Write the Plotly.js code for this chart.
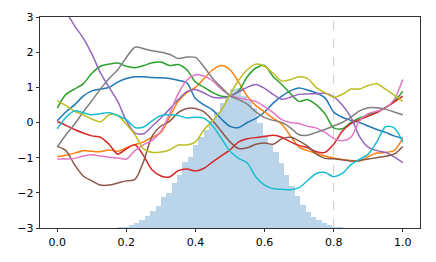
<!DOCTYPE html>
<html>
<head>
<meta charset="utf-8">
<script src="https://cdn.plot.ly/plotly-3.0.1.min.js"></script>
<style>html,body{margin:0;padding:0;background:#fff;}#chart{width:436px;height:262px;}</style>
</head>
<body>
<div id="chart"></div>
<script>
const xs = [0,0.025,0.05,0.075,0.1,0.125,0.15,0.175,0.2,0.225,0.25,0.275,0.3,0.325,0.35,0.375,0.4,0.425,0.45,0.475,0.5,0.525,0.55,0.575,0.6,0.625,0.65,0.675,0.7,0.725,0.75,0.775,0.8,0.825,0.85,0.875,0.9,0.925,0.95,0.975,1.0];

const seriesBlue   = [0.05,0.3,0.5,0.75,0.9,0.95,1.0,1.15,1.25,1.3,1.3,1.28,1.27,1.25,1.2,1.13,0.68,0.5,0.35,0.1,-0.11,-0.14,0.0,0.12,0.3,0.55,0.75,0.9,0.98,0.92,0.84,0.7,0.3,0.15,0.06,0.0,-0.1,-0.2,-0.28,-0.38,-0.45];
const seriesOrange = [-0.97,-0.93,-0.87,-0.8,-0.82,-0.83,-0.78,-0.82,-0.72,-0.63,-0.55,-0.42,-0.28,0.15,0.6,0.85,1.0,1.25,1.5,1.62,1.5,1.15,0.75,0.48,0.3,0.12,-0.05,-0.38,-0.7,-0.8,-0.88,-0.95,-1.01,-1.05,-1.08,-1.1,-0.97,-0.87,-0.85,-0.8,-0.45];
const seriesGreen  = [0.41,0.8,0.95,1.1,1.4,1.6,1.66,1.69,1.6,1.56,1.62,1.7,1.72,1.62,1.65,1.5,1.15,1.0,0.85,0.75,0.75,0.9,1.3,1.55,1.62,1.3,1.08,0.82,0.6,0.65,0.5,0.25,-0.15,-0.18,0.0,0.13,0.22,0.3,0.42,0.6,0.88];
const seriesRed    = [0.03,-0.08,-0.2,-0.3,-0.38,-0.42,-0.62,-0.9,-0.75,-0.63,-0.95,-1.35,-1.52,-1.55,-1.37,-1.32,-1.38,-1.3,-1.12,-0.95,-0.78,-0.55,-0.46,-0.43,-0.4,-0.36,-0.42,-0.55,-0.65,-0.72,-0.83,-0.85,-0.62,-0.25,-0.03,0.08,0.18,0.28,0.42,0.58,0.75];
const seriesPurple = [3.45,3.15,2.75,2.4,1.95,1.41,1.0,0.6,0.05,-0.3,-0.32,-0.1,0.13,0.38,0.65,0.88,0.94,0.84,0.72,0.7,0.75,0.87,1.0,1.08,0.97,0.8,0.66,0.72,0.8,0.81,0.82,0.83,0.73,0.5,0.15,-0.4,-0.7,-0.8,-0.85,-0.98,-1.14];
const seriesBrown  = [-0.68,-0.8,-1.2,-1.52,-1.66,-1.78,-1.78,-1.72,-1.66,-1.62,-1.1,-0.38,-0.1,0.03,0.28,0.4,0.4,0.3,0.05,-0.25,-0.55,-0.74,-0.72,-0.62,-0.58,-0.62,-0.46,-0.42,-0.52,-0.68,-0.9,-1.02,-1.03,-1.06,-1.1,-1.08,-1.04,-1.0,-0.96,-0.9,-0.68];
const seriesPink   = [-1.04,-1.04,-1.02,-0.95,-0.92,-0.95,-0.99,-1.01,-1.04,-0.8,-0.63,-0.5,-0.25,0.25,0.82,1.2,1.36,1.32,1.18,0.95,0.78,0.7,0.65,0.6,0.45,0.28,0.08,0.0,-0.03,-0.11,-0.16,-0.28,-0.45,-0.52,-0.42,0.05,0.25,0.32,0.41,0.65,1.22];
const seriesGray   = [-0.7,-0.35,-0.05,0.3,0.62,0.95,1.25,1.5,1.85,2.14,2.1,2.04,2.0,1.94,1.82,1.86,1.85,1.58,1.25,1.0,0.76,0.65,0.52,0.3,0.14,0.06,0.0,-0.15,-0.35,-0.36,-0.28,-0.2,-0.1,0.0,0.15,0.33,0.42,0.42,0.38,0.3,0.22];
const seriesOlive  = [0.62,0.48,0.32,0.22,0.1,0.02,0.22,0.2,-0.05,-0.35,-0.75,-0.85,-0.84,-0.78,-0.64,-0.64,-0.55,-0.2,0.05,0.35,0.8,1.2,1.5,1.66,1.6,1.4,1.18,1.22,1.3,1.25,0.99,0.85,0.72,0.8,0.95,0.95,1.05,1.1,0.95,0.78,0.6];
const seriesCyan   = [-0.18,0.15,0.33,0.28,0.22,0.25,0.28,0.2,0.08,-0.14,-0.13,0.05,0.2,0.22,0.2,0.13,0.15,0.12,-0.1,-0.45,-0.82,-1.02,-1.15,-1.55,-1.78,-1.88,-1.9,-1.91,-1.85,-1.65,-1.45,-1.42,-1.54,-1.45,-1.2,-1.05,-0.9,-0.55,-0.12,-0.15,-0.55];

const seriesList = [seriesBlue,seriesOrange,seriesGreen,seriesRed,seriesPurple,seriesBrown,seriesPink,seriesGray,seriesOlive,seriesCyan];
const colors = ['#1f77b4','#ff7f0e','#2ca02c','#d62728','#9467bd','#8c564b','#e377c2','#7f7f7f','#bcbd22','#17becf'];

const histCenters = [0.18375,0.19925,0.21475,0.23025,0.24575,0.26125,0.27675,0.29225,0.30775,0.32325,0.33875,0.35425,0.36975,0.38525,0.40075,0.41625,0.43175,0.44725,0.46275,0.47825,0.49375,0.50925,0.52475,0.54025,0.55575,0.57125,0.58675,0.60225,0.61775,0.63325,0.64875,0.66425,0.67975,0.69525,0.71075,0.72625,0.74175,0.75725,0.77275,0.78825,0.80375,0.81925];
const histHeights = [0.03,0.04,0.08,0.13,0.22,0.34,0.49,0.62,0.87,1.0,1.29,1.51,1.89,2.03,2.37,2.6,2.8,3.03,3.3,3.55,3.7,3.95,3.98,3.75,3.6,3.4,3.0,2.65,2.4,2.17,1.84,1.5,1.2,0.9,0.65,0.45,0.32,0.22,0.15,0.08,0.04,0.02];
const histBase = -3;
const histWidth = 0.0157;

const xTicks = [0,0.2,0.4,0.6,0.8,1.0];
const xTickText = ['0.0','0.2','0.4','0.6','0.8','1.0'];
const yTicks = [-3,-2,-1,0,1,2,3];
const yTickText = ['\u22123','\u22122','\u22121','0','1','2','3'];
const vlineX = 0.8;

const traces = [{
  type:'bar', x:histCenters, y:histHeights, base:histBase, width:histWidth,
  marker:{color:'#bad5e9', line:{width:0}}, hoverinfo:'skip'
}];
seriesList.forEach((s,i)=>{
  traces.push({type:'scatter', mode:'lines', x:xs, y:s,
    line:{color:colors[i], width:1.5, shape:'spline', smoothing:0.8}});
});

const axisCommon = {showgrid:false, zeroline:false, showline:true, mirror:true,
  linecolor:'#000', linewidth:0.8, ticks:'outside', ticklen:3.5, tickwidth:0.8, tickcolor:'#000',
  tickfont:{family:'DejaVu Sans', size:11, color:'#000'}};

const layout = {
  width:436, height:262, margin:{l:40,r:16,t:17,b:34},
  paper_bgcolor:'#fff', plot_bgcolor:'#fff', showlegend:false, bargap:0,
  xaxis:Object.assign({}, axisCommon, {range:[-0.05,1.05], tickvals:xTicks, ticktext:xTickText}),
  yaxis:Object.assign({}, axisCommon, {range:[-3,3], tickvals:yTicks, ticktext:yTickText}),
  shapes:[{type:'line', xref:'x', yref:'paper', x0:vlineX, x1:vlineX, y0:0, y1:1,
    line:{color:'#cccccc', width:1, dash:'dash'}, layer:'below'}]
};
Plotly.newPlot('chart', traces, layout, {staticPlot:true, displayModeBar:false});
</script>
</body>
</html>
